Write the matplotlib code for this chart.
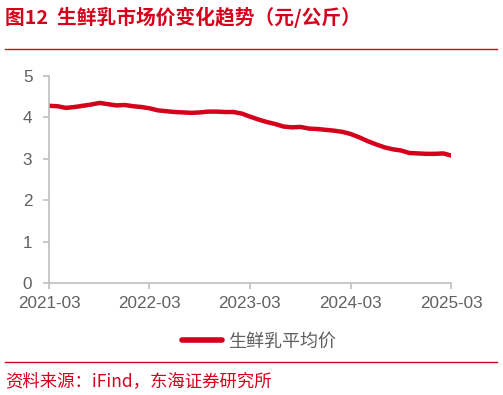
import matplotlib.pyplot as plt
import numpy as np
import pandas as pd

plt.rcParams['font.family'] = ['Liberation Sans', 'Noto Sans CJK SC', 'DejaVu Sans']

# monthly average raw milk price (yuan/kg), 2021-03 .. 2025-03
dates = pd.date_range('2021-03-01', '2025-03-01', freq='MS')
price = [4.28, 4.27, 4.23, 4.25, 4.28, 4.31, 4.35, 4.32, 4.29, 4.30, 4.27, 4.25,
         4.22, 4.17, 4.15, 4.13, 4.12, 4.11, 4.12, 4.14, 4.14, 4.13, 4.13, 4.09,
         4.02, 3.95, 3.89, 3.84, 3.78, 3.76, 3.77, 3.73, 3.72, 3.70, 3.68, 3.65,
         3.60, 3.52, 3.43, 3.35, 3.28, 3.23, 3.20, 3.14, 3.13, 3.12, 3.12, 3.13,
         3.08]
tick_labels = ['2021-03', '2022-03', '2023-03', '2024-03', '2025-03']
yticks = [0, 1, 2, 3, 4, 5]

title = '图12  生鲜乳市场价变化趋势（元/公斤）'
source = '资料来源：iFind，东海证券研究所'
series_name = '生鲜乳平均价'

red = '#D6001C'
grey = '#606060'
axis_grey = '#BFBFBF'

fig = plt.figure(figsize=(5.03, 3.95), dpi=100)
ax = fig.add_axes([49 / 503, 1 - 283 / 395, 402 / 503, 207 / 395])

ax.plot(dates, price, color=red, lw=3.2, solid_capstyle='round', label=series_name)

ax.set_ylim(0, 5)
ax.set_yticks(yticks)
ax.set_xlim(dates[0], dates[-1])
ax.set_xticks(pd.to_datetime([d + '-01' for d in tick_labels]))
ax.set_xticklabels(tick_labels)

for s in ['top', 'right']:
    ax.spines[s].set_visible(False)
for s in ['left', 'bottom']:
    ax.spines[s].set_color(axis_grey)
    ax.spines[s].set_linewidth(1.2)
ax.tick_params(axis='both', colors=axis_grey, labelcolor=grey, labelsize=12.3,
               length=4, width=1.2)
ax.tick_params(axis='y', pad=8)
ax.tick_params(axis='x', pad=5)

leg = ax.legend(loc='upper center', bbox_to_anchor=(0.522, -0.16), frameon=False,
                handlelength=2.2, handletextpad=0.35,
                prop={'family': ['Noto Sans CJK SC'], 'size': 13})
for t in leg.get_texts():
    t.set_color(grey)
for h in leg.get_lines():
    h.set_linewidth(4)

fig.text(5 / 503, 1 - 17 / 395, title, color=red, fontsize=14.2, fontweight='bold',
         va='center', ha='left', family=['Noto Sans CJK SC', 'DejaVu Sans'])
fig.add_artist(plt.Line2D([5 / 503, 497 / 503], [1 - 49 / 395] * 2, color=red, lw=1))
fig.add_artist(plt.Line2D([5 / 503, 497 / 503], [1 - 362 / 395] * 2, color=red, lw=1))
fig.text(5 / 503, 1 - 381 / 395, source, color=red, fontsize=12.5, va='center', ha='left',
         family=['Noto Sans CJK SC', 'DejaVu Sans'])

fig.savefig('out.png', dpi=100)
